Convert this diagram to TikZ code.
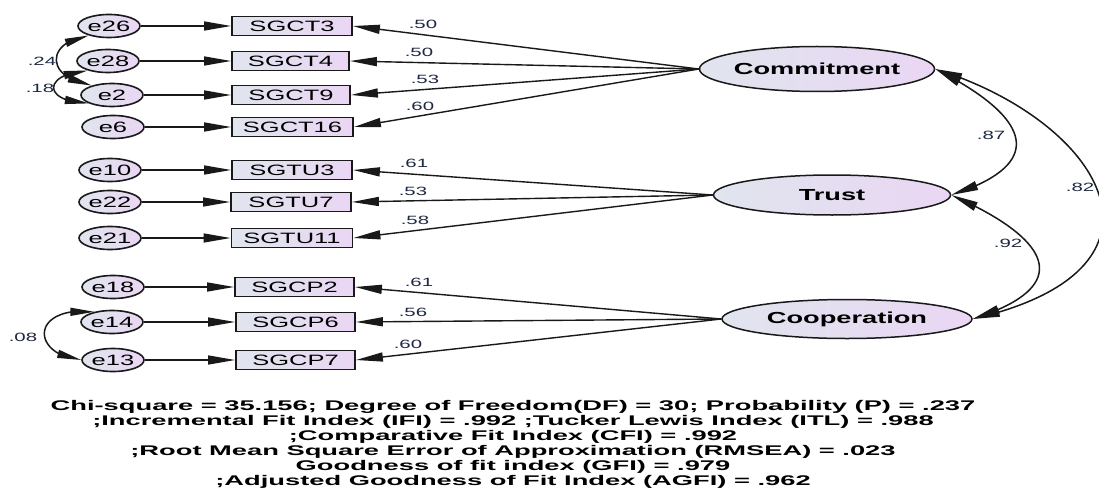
\documentclass[tikz,border=0pt]{standalone}
\usepackage{fontspec}
\setmainfont{Liberation Sans}[FakeStretch=1.7]
\newfontfamily\widefont{Liberation Sans}[FakeStretch=1.95]
\usetikzlibrary{shapes.geometric,arrows.meta,bending}
\definecolor{fillL}{RGB}{224,229,238}
\definecolor{fillR}{RGB}{234,214,244}
\definecolor{lbl}{RGB}{30,40,65}
\definecolor{edge}{RGB}{25,25,25}
\tikzset{
  tipA/.tip={Triangle[length=27pt,width=9pt]},
  tipB/.tip={Triangle[length=24pt,width=8pt]},
  err/.style={ellipse,draw=edge,line width=1.6pt,minimum width=62pt,minimum height=23pt,inner sep=0pt,
    left color=fillL,right color=fillR,font=\fontsize{15}{15}\selectfont},
  obs/.style={rectangle,draw=edge,line width=1.8pt,minimum height=19pt,inner sep=0pt,
    left color=fillL,right color=fillR,font=\fontsize{15}{15}\selectfont},
  lat/.style={ellipse,draw=edge,line width=1.5pt,inner sep=0pt,
    left color=fillL,right color=fillR,font=\bfseries\fontsize{16}{16}\selectfont},
  path1/.style={draw=edge,line width=1.4pt,-tipA},
  cov/.style={draw=edge,line width=1.5pt,tipA-tipA},
  covs/.style={draw=edge,line width=1.5pt,tipB-tipB},
  num/.style={font=\fontsize{12}{12}\selectfont,text=lbl,inner sep=0pt},
}
\begin{document}
\begin{tikzpicture}[x=1pt,y=-1pt]
\useasboundingbox[fill=white] (0,0) rectangle (1099,492);
% error terms
\node[err] (e26) at (109,26) {e26};
\node[err] (e28) at (108,61) {e28};
\node[err] (e2)  at (112,95) {e2};
\node[err] (e6)  at (113,127) {e6};
\node[err] (e10) at (110,170) {e10};
\node[err] (e22) at (110,202) {e22};
\node[err] (e21) at (110,238) {e21};
\node[err] (e18) at (113,287) {e18};
\node[err] (e14) at (112,322) {e14};
\node[err] (e13) at (113,360) {e13};
% observed
\node[obs,minimum width=120pt] (o1) at (292,26) {SGCT3};
\node[obs,minimum width=117pt] (o2) at (290.5,61) {SGCT4};
\node[obs,minimum width=118pt] (o3) at (291,95) {SGCT9};
\node[obs,minimum width=121pt] (o4) at (292.5,127) {SGCT16};
\node[obs,minimum width=120pt] (o5) at (292,170) {SGTU3};
\node[obs,minimum width=120pt] (o6) at (291,202) {SGTU7};
\node[obs,minimum width=121pt] (o7) at (292,238) {SGTU11};
\node[obs,minimum width=119pt] (o8) at (294.5,287) {SGCP2};
\node[obs,minimum width=119pt] (o9) at (295.5,322) {SGCP6};
\node[obs,minimum width=119pt] (o10) at (295.5,360) {SGCP7};
% latent
\node[lat,minimum width=209pt,minimum height=45pt] (com) at (817,69) {Commitment};
\node[lat,minimum width=237pt,minimum height=40pt] (tru) at (832,195) {Trust};
\node[lat,minimum width=250pt,minimum height=39pt] (coo) at (847,319) {Cooperation};
% error arrows
\foreach \e/\o in {e26/o1,e28/o2,e2/o3,e6/o4,e10/o5,e22/o6,e21/o7,e18/o8,e14/o9,e13/o10}
  \draw[path1] (\e.east) -- (\e.east -| \o.west);
% loadings
\foreach \o in {o1,o2,o3,o4} \draw[path1] (com.west) -- (\o.east);
\foreach \o in {o5,o6,o7} \draw[path1] (tru.west) -- (\o.east);
\foreach \o in {o8,o9,o10} \draw[path1] (coo.west) -- (\o.east);
\node[num] (l1) at (423,24) {.50};
\node[num] (l2) at (419,52) {.50};
\node[num] (l3) at (425,79) {.53};
\node[num] (l4) at (420,106) {.60};
\node[num] (l5) at (414,163) {.61};
\node[num] (l6) at (413,191) {.53};
\node[num] (l7) at (415,220) {.58};
\node[num] (l8) at (419,282) {.61};
\node[num] (l9) at (413,312) {.56};
\node[num] (l10) at (408,344) {.60};
% covariances right
\draw[cov] (com.east) .. controls (1017,110) and (1060,160) .. (tru.east);
\draw[cov] (com.east) .. controls (1100,120) and (1194,268) .. (coo.east);
\draw[cov] (tru.east) .. controls (1047,237) and (1080,285) .. (coo.east);
\node[num] (c1) at (991,135) {.87};
\node[num] (c2) at (1080,187) {.82};
\node[num] (c3) at (1008,243) {.92};
% covariances left
\draw[covs] (e26.205) .. controls (45,42) and (45,78) .. (e2.155);
\draw[covs] (e28.205) .. controls (42,74) and (42,102) .. (e2.200);
\draw[covs] (e14.150) .. controls (30,305) and (30,355) .. (e13.west);
\node[num] (c4) at (42,61) {.24};
\node[num] (c5) at (40,88) {.18};
\node[num] (c6) at (23,337) {.08};
% fit statistics
\node[align=center,inner sep=0pt,font=\widefont\bfseries\fontsize{14}{15}\selectfont] (fit) at (513,444) {%
Chi-square = 35.156; Degree of Freedom(DF) = 30; Probability (P) = .237\\
;Incremental Fit Index (IFI) = .992 ;Tucker Lewis Index (ITL) = .988\\
;Comparative Fit Index (CFI) = .992\\
;Root Mean Square Error of Approximation (RMSEA) = .023\\
Goodness of fit index (GFI) = .979\\
;Adjusted Goodness of Fit Index (AGFI) = .962};
\end{tikzpicture}
\end{document}
